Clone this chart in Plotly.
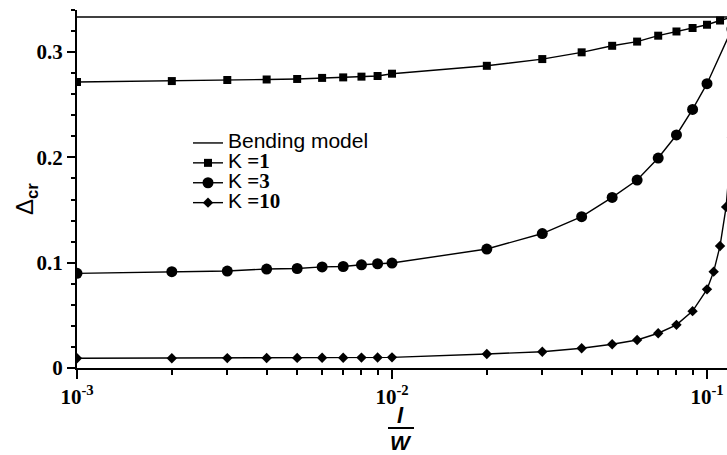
import plotly.graph_objects as go

# ---- data ----
x_k1 = [0.001, 0.002, 0.003, 0.004, 0.005, 0.006, 0.007, 0.008, 0.009, 0.01,
        0.02, 0.03, 0.04, 0.05, 0.06, 0.07, 0.08, 0.09, 0.1, 0.11, 0.12]
k1 = [0.2716, 0.2725, 0.2735, 0.2740, 0.2745, 0.2755, 0.2760, 0.2767, 0.2773, 0.2795,
      0.2870, 0.2934, 0.2998, 0.3060, 0.3100, 0.3156, 0.3196, 0.3229, 0.3260, 0.3300, 0.3333]

x_k3 = [0.001, 0.002, 0.003, 0.004, 0.005, 0.006, 0.007, 0.008, 0.009, 0.01,
        0.02, 0.03, 0.04, 0.05, 0.06, 0.07, 0.08, 0.09, 0.1, 0.12]
k3 = [0.0899, 0.0915, 0.0921, 0.0940, 0.0945, 0.0960, 0.0964, 0.0980, 0.0990, 0.0997,
      0.1130, 0.1277, 0.1437, 0.1620, 0.1785, 0.1994, 0.2213, 0.2456, 0.2700, 0.3220]

x_k10 = [0.001, 0.002, 0.003, 0.004, 0.005, 0.006, 0.007, 0.008, 0.009, 0.01,
         0.02, 0.03, 0.04, 0.05, 0.06, 0.07, 0.08, 0.09, 0.1, 0.105, 0.11, 0.115, 0.12]
k10 = [0.0092, 0.0093, 0.0094, 0.0095, 0.0096, 0.0097, 0.0098, 0.0099, 0.0100, 0.0101,
       0.0133, 0.0155, 0.0187, 0.0225, 0.0266, 0.0330, 0.0410, 0.0540, 0.0747, 0.0915,
       0.1159, 0.1530, 0.2190]

x_bend = [0.001, 0.13]
bend = [1 / 3, 1 / 3]

x_tickvals = [0.001, 0.01, 0.1]
x_ticktext = ["10<sup>-3</sup>", "10<sup>-2</sup>", "10<sup>-1</sup>"]
x_minor = [m * d for d in (0.001, 0.01, 0.1) for m in range(2, 10)]
y_tickvals = [0, 0.1, 0.2, 0.3]
y_ticktext = ["0", "0.1", "0.2", "0.3"]

SANS = "font-family:Liberation Sans;font-size:21px"
SERIF_B = "font-family:Liberation Serif;font-weight:bold;font-size:21px"
def k_label(v):
    return '<span style="%s">K</span><span style="%s"> =%s</span>' % (SANS, SERIF_B, v)

names = [
    '<span style="%s">Bending model</span>' % SANS,
    k_label("1"), k_label("3"), k_label("10"),
]

fig = go.Figure()
line = dict(color="black", width=1.4)
fig.add_trace(go.Scatter(x=x_bend, y=bend, mode="lines", line=line, name=names[0]))
fig.add_trace(go.Scatter(x=x_k1, y=k1, mode="lines+markers", line=line,
                         marker=dict(symbol="square", size=8, color="black"), name=names[1]))
fig.add_trace(go.Scatter(x=x_k3, y=k3, mode="lines+markers", line=line,
                         marker=dict(symbol="circle", size=11, color="black"), name=names[2]))
fig.add_trace(go.Scatter(x=x_k10, y=k10, mode="lines+markers", line=line,
                         marker=dict(symbol="diamond", size=8, color="black"), name=names[3]))

W, H = 727, 455
L, R, T, B = 77, 0, 10, 87
pw, ph = W - L - R, H - T - B

def px(xp):
    return (xp - L) / pw

def py(yp):
    return (T + ph - yp) / ph

fig.update_layout(
    width=W, height=H,
    margin=dict(l=L, r=R, t=T, b=B),
    paper_bgcolor="white", plot_bgcolor="white",
    showlegend=True,
    legend=dict(x=px(188), y=py(128), xanchor="left", yanchor="top",
                font=dict(family="Liberation Sans", size=13, color="black"),
                bgcolor="rgba(0,0,0,0)", borderwidth=0, tracegroupgap=0),
    font=dict(family="Liberation Sans", color="black"),
)
fig.update_xaxes(
    type="log", range=[-3, -0.9365],
    showline=True, linecolor="black", linewidth=2, mirror=False,
    showgrid=False, zeroline=False,
    ticks="outside", ticklen=9, tickwidth=2, tickcolor="black",
    tickvals=x_tickvals, ticktext=x_ticktext,
    tickfont=dict(family="Liberation Serif", size=21, color="black", weight="bold"),
    minor=dict(ticks="outside", ticklen=5, tickwidth=1.5, tickcolor="black",
               tickvals=x_minor, showgrid=False),
)
fig.update_yaxes(
    range=[0, 0.34],
    showline=True, linecolor="black", linewidth=2, mirror=False,
    showgrid=False, zeroline=False,
    ticks="outside", ticklen=8, tickwidth=2, tickcolor="black",
    tickvals=y_tickvals, ticktext=y_ticktext,
    tickfont=dict(family="Liberation Serif", size=21, color="black", weight="bold"),
    minor=dict(ticks="outside", ticklen=4, tickwidth=1.5, tickcolor="black",
               dtick=0.02, showgrid=False),
)

# y-axis title (rotated)
fig.add_annotation(xref="paper", yref="paper", x=px(26), y=py(199),
                   text="\u0394<sub><b>cr</b></sub>", textangle=-90, showarrow=False,
                   font=dict(family="Liberation Sans", size=24, color="black"),
                   xanchor="center", yanchor="middle")
# x-axis title as fraction l / W
fig.add_annotation(xref="paper", yref="paper", x=px(400), y=py(415),
                   text="<b><i>l</i></b>", showarrow=False,
                   font=dict(family="Liberation Sans", size=22, color="black"),
                   xanchor="center", yanchor="middle")
fig.add_annotation(xref="paper", yref="paper", x=px(401), y=py(442),
                   text="<b><i>W</i></b>", showarrow=False,
                   font=dict(family="Liberation Sans", size=21, color="black"),
                   xanchor="center", yanchor="middle")
fig.add_shape(type="line", xref="paper", yref="paper",
              x0=px(388), x1=px(414), y0=py(428), y1=py(428),
              line=dict(color="black", width=2))

fig.write_html("out.html")
